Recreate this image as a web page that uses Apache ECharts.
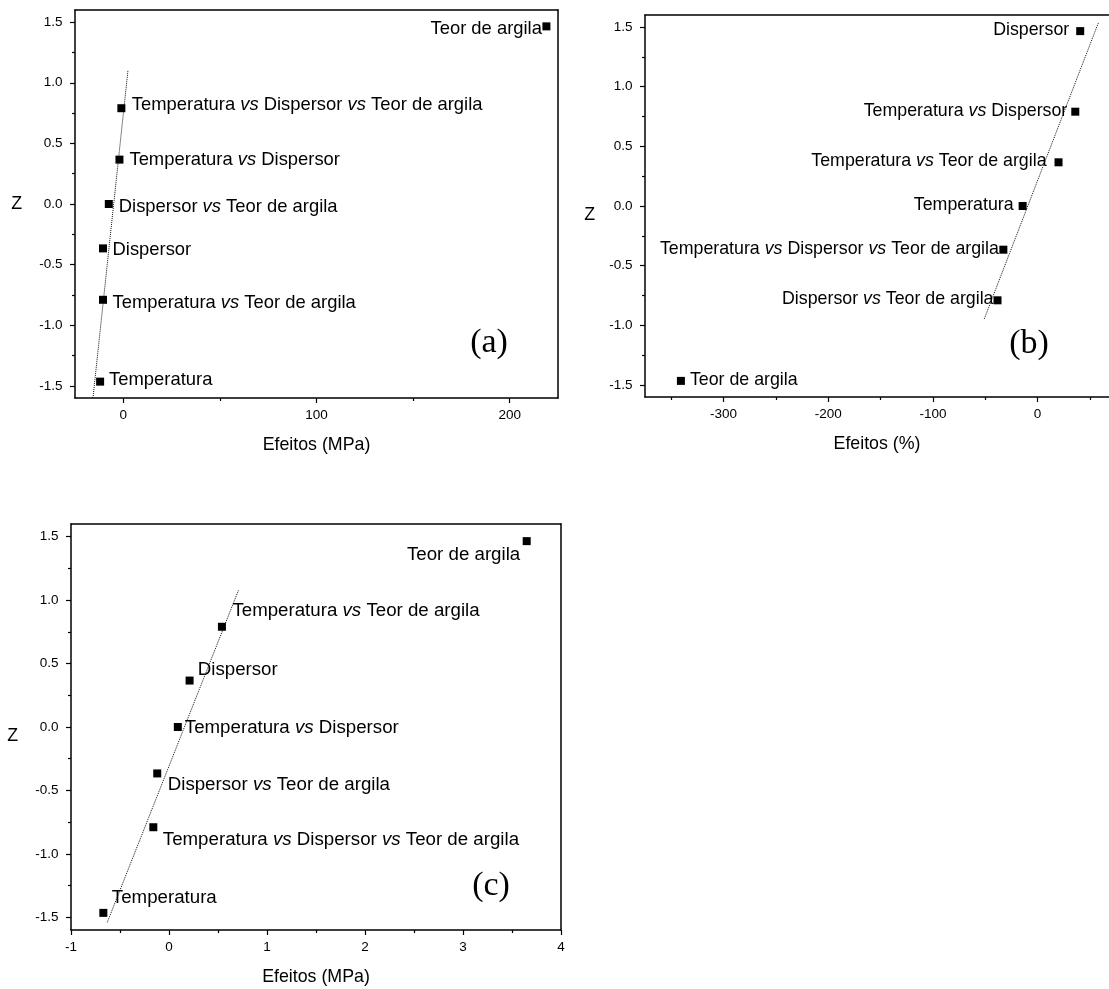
<!DOCTYPE html>
<html><head><meta charset="utf-8">
<script src="https://cdn.jsdelivr.net/npm/echarts@6/dist/echarts.min.js"></script>
<style>html,body{margin:0;padding:0;background:#fff}#c{width:1109px;height:989px}</style>
</head><body><div id="c"></div>
<script>
// ---------------- data ----------------
const zValues = [1.465, 0.79, 0.366, 0, -0.366, -0.79, -1.465];

const namesA = ['Teor de argila', 'Temperatura vs Dispersor vs Teor de argila', 'Temperatura vs Dispersor',
  'Dispersor vs Teor de argila', 'Dispersor', 'Temperatura vs Teor de argila', 'Temperatura'];
const effectsA = [219, -1, -2, -7.5, -10.5, -10.5, -12];
const fitLineA = [[-15.7, -1.6], [2.4, 1.1]];

const namesB = ['Dispersor', 'Temperatura vs Dispersor', 'Temperatura vs Teor de argila', 'Temperatura',
  'Temperatura vs Dispersor vs Teor de argila', 'Dispersor vs Teor de argila', 'Teor de argila'];
const effectsB = [40.7, 36, 20, -14.3, -32.7, -38.3, -340.7];
const fitLineB = [[-51, -0.947], [58.3, 1.54]];

const namesC = ['Teor de argila', 'Temperatura vs Teor de argila', 'Dispersor', 'Temperatura vs Dispersor',
  'Dispersor vs Teor de argila', 'Temperatura vs Dispersor vs Teor de argila', 'Temperatura'];
const effectsC = [3.65, 0.54, 0.21, 0.09, -0.12, -0.16, -0.67];
const fitLineC = [[-0.63, -1.54], [0.71, 1.08]];

const yTicks = [-1.5, -1.0, -0.5, 0.0, 0.5, 1.0, 1.5];
const yMinorTicks = [-1.25, -0.75, -0.25, 0.25, 0.75, 1.25];
const xTicksA = [0, 100, 200];
const xMinorA = [50, 150];
const xTicksB = [-300, -200, -100, 0];
const xMinorB = [-350, -250, -150, -50, 50];
const xTicksC = [-1, 0, 1, 2, 3, 4];
const xMinorC = [-0.5, 0.5, 1.5, 2.5, 3.5];

const yTitle = 'Z';
const xTitles = ['Efeitos (MPa)', 'Efeitos (%)', 'Efeitos (MPa)'];
const panelTags = ['(a)', '(b)', '(c)'];

// ---------------- layout / style ----------------
const FONT = '"Liberation Sans", Arial, sans-serif';
const SERIF = '"Liberation Serif", "Times New Roman", serif';
const grids = [
  {left: 75, top: 10, width: 483, height: 388},
  {left: 645, top: 15, width: 464, height: 382},
  {left: 71, top: 524, width: 490, height: 406}
];
const xRanges = [[-25, 225], [-375, 68.2], [-1, 4]];
const yRange = [-1.6, 1.6];
const showRightFrame = [true, false, true];
const zNameGap = [53, 50, 53];
const zVAlign = ['middle', 'top', 'top'];
const labelFont = [18.4, 17.8, 18.7];
const tagPos = [[489, 343], [1029, 344], [491, 886]];
// [position, distance, dy]
const placeA = [['left', 0.5, 3], ['right', 6.5, -3], ['right', 6, 0], ['right', 6, 3], ['right', 5.5, 2], ['right', 5.5, 3], ['right', 5, -2]];
const placeB = [['left', 7, -1], ['left', 4, -1], ['left', 8, -1], ['left', 5, -1], ['left', 0.5, -1], ['left', 0, -1], ['right', 5, -1]];
const placeC = [['left', 2.5, 14], ['right', 6.5, -16], ['right', 4.2, -11], ['right', 3, 1], ['right', 6.5, 11], ['right', 5.5, 13], ['right', 4.5, -15]];

const xMajor = [xTicksA, xTicksB, xTicksC];
const xMinor = [xMinorA, xMinorB, xMinorC];
const names = [namesA, namesB, namesC];
const effects = [effectsA, effectsB, effectsC];
const fits = [fitLineA, fitLineB, fitLineC];
const places = [placeA, placeB, placeC];

const black = '#000';
const xAxes = [], yAxes = [], series = [];
grids.forEach((g, i) => {
  // main x axis (index 3i)
  xAxes.push({
    type: 'value', gridIndex: i, position: 'bottom', min: xRanges[i][0], max: xRanges[i][1],
    name: xTitles[i], nameLocation: 'middle', nameGap: 38,
    nameTextStyle: {fontSize: 17.8, color: black, fontFamily: FONT},
    axisLine: {show: true, onZero: false, lineStyle: {color: black, width: 1.5}},
    axisTick: {show: true, customValues: xMajor[i], length: 5, lineStyle: {color: black, width: 1.2}},
    axisLabel: {show: true, customValues: xMajor[i], margin: 10, fontSize: 13.5, color: black, fontFamily: FONT,
      formatter: v => String(v)},
    splitLine: {show: false}
  });
  // minor ticks x
  xAxes.push({
    type: 'value', gridIndex: i, position: 'bottom', min: xRanges[i][0], max: xRanges[i][1],
    axisLine: {show: false, onZero: false},
    axisTick: {show: true, customValues: xMinor[i], length: 3, lineStyle: {color: black, width: 1.2}},
    axisLabel: {show: false}, splitLine: {show: false}
  });
  // top frame line
  xAxes.push({
    type: 'value', gridIndex: i, position: 'top', min: xRanges[i][0], max: xRanges[i][1],
    axisLine: {show: true, onZero: false, lineStyle: {color: black, width: 1.5}},
    axisTick: {show: false}, axisLabel: {show: false}, splitLine: {show: false}
  });
  // main y axis
  yAxes.push({
    type: 'value', gridIndex: i, position: 'left', min: yRange[0], max: yRange[1],
    name: yTitle, nameLocation: 'middle', nameRotate: 0, nameGap: zNameGap[i],
    nameTextStyle: {fontSize: 17.8, color: black, fontFamily: FONT, verticalAlign: zVAlign[i]},
    axisLine: {show: true, onZero: false, lineStyle: {color: black, width: 1.5}},
    axisTick: {show: true, customValues: yTicks, length: 5, lineStyle: {color: black, width: 1.2}},
    axisLabel: {show: true, customValues: yTicks, margin: 12.5, fontSize: 13.5, color: black, fontFamily: FONT,
      formatter: v => v.toFixed(1)},
    splitLine: {show: false}
  });
  // minor ticks y
  yAxes.push({
    type: 'value', gridIndex: i, position: 'left', min: yRange[0], max: yRange[1],
    axisLine: {show: false, onZero: false},
    axisTick: {show: true, customValues: yMinorTicks, length: 3, lineStyle: {color: black, width: 1.2}},
    axisLabel: {show: false}, splitLine: {show: false}
  });
  // right frame line
  yAxes.push({
    type: 'value', gridIndex: i, position: 'right', min: yRange[0], max: yRange[1],
    axisLine: {show: showRightFrame[i], onZero: false, lineStyle: {color: black, width: 1.5}},
    axisTick: {show: false}, axisLabel: {show: false}, splitLine: {show: false}
  });
  series.push({
    type: 'line', xAxisIndex: 3 * i, yAxisIndex: 3 * i, data: fits[i], showSymbol: false, symbol: 'none',
    lineStyle: {color: '#111', width: 1, type: 'dotted'}, silent: true, z: 2, clip: true
  });
  series.push({
    type: 'scatter', xAxisIndex: 3 * i, yAxisIndex: 3 * i, symbol: 'rect', symbolSize: 8,
    itemStyle: {color: black, opacity: 1}, silent: true, z: 3,
    data: names[i].map((n, k) => ({
      name: n, value: [effects[i][k], zValues[k]],
      label: {position: places[i][k][0], distance: places[i][k][1], offset: [0, places[i][k][2]]}
    })),
    label: {
      show: true, fontSize: labelFont[i], color: black, fontFamily: FONT,
      formatter: p => p.name.replace(/ vs /g, ' {i|vs} '),
      rich: {i: {fontStyle: 'italic', fontSize: labelFont[i], color: black, fontFamily: FONT}}
    }
  });
});

const chart = echarts.init(document.getElementById('c'), null, {renderer: 'canvas'});
chart.setOption({
  animation: false,
  backgroundColor: '#fff',
  grid: grids.map(g => Object.assign({show: false, containLabel: false}, g)),
  xAxis: xAxes,
  yAxis: yAxes,
  series: series,
  graphic: panelTags.map((t, i) => ({
    type: 'text', x: tagPos[i][0], y: tagPos[i][1], silent: true,
    style: {text: t, fontSize: 34, fontFamily: SERIF, fill: black, align: 'center', verticalAlign: 'middle'}
  }))
});
</script></body></html>
